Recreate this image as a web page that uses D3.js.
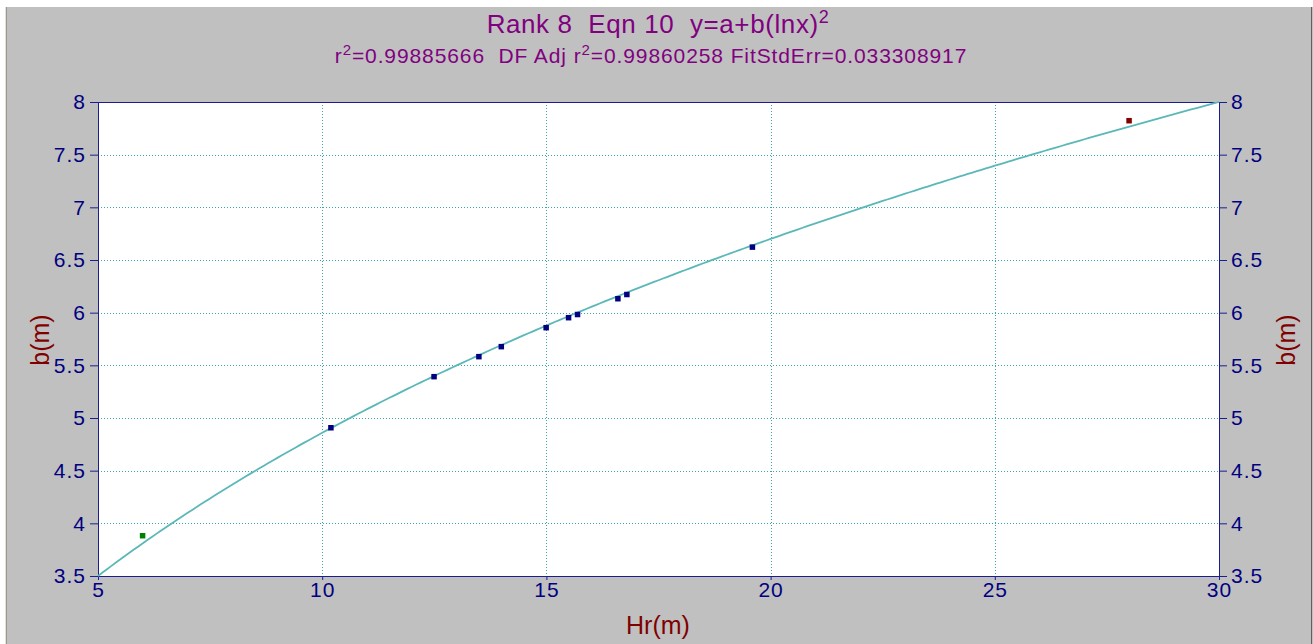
<!DOCTYPE html>
<html>
<head>
<meta charset="utf-8">
<script src="https://cdn.jsdelivr.net/npm/d3@7"></script>
<style>
body { margin: 0; background: #fff; }
svg { display: block; font-family: "Liberation Sans", Arial, sans-serif; }
text { white-space: pre; }
</style>
</head>
<body>
<svg width="1313" height="644"></svg>
<script>
var svg = d3.select('svg');
var width = +svg.attr('width');
var height = +svg.attr('height');

// measured points: Hr(m) vs b(m)
var hr = [6.0, 10.2, 12.5, 13.5, 14.0, 15.0, 15.5, 15.7, 16.6, 16.8, 19.6, 28.0];
var bm = [3.88, 4.905, 5.39, 5.58, 5.675, 5.855, 5.95, 5.98, 6.13, 6.17, 6.62, 7.82];
var pointColors = ['#008000', '#000080', '#000080', '#000080', '#000080', '#000080',
	'#000080', '#000080', '#000080', '#000080', '#000080', '#800000'];

// fit y = a + b(ln x)^2
var fitA = 2.202;
var fitB = 0.5012;

var xTicks = [5, 10, 15, 20, 25, 30];
var yTicks = [3.5, 4, 4.5, 5, 5.5, 6, 6.5, 7, 7.5, 8];

var plot = { left: 98, right: 1219, top: 102, bottom: 576 };

var x = d3.scaleLinear().domain([5, 30]).range([plot.left, plot.right]);
var y = d3.scaleLinear().domain([3.5, 8]).range([plot.bottom, plot.top]);

// window frame
svg.append('rect').attr('x', 5).attr('y', 7).attr('width', width - 5).attr('height', height - 7)
	.attr('fill', '#c0c0c0');
svg.append('line').attr('x1', 6.5).attr('x2', 6.5).attr('y1', 7).attr('y2', height)
	.attr('stroke', '#9c9890').attr('stroke-width', 1);
svg.append('line').attr('x1', 5.5).attr('x2', 5.5).attr('y1', 7).attr('y2', height)
	.attr('stroke', '#e6e2da').attr('stroke-width', 1);
svg.append('line').attr('x1', width - 1.5).attr('x2', width - 1.5).attr('y1', 7).attr('y2', height)
	.attr('stroke', '#606060').attr('stroke-width', 1);

svg.append('rect')
	.attr('x', plot.left).attr('y', plot.top)
	.attr('width', plot.right - plot.left).attr('height', plot.bottom - plot.top)
	.attr('fill', '#ffffff');

// grid
var grid = svg.append('g').attr('stroke', '#3aa6a6').attr('stroke-width', 1).attr('stroke-dasharray', '1,2');
grid.selectAll('.gx').data(xTicks.slice(1, -1)).enter().append('line')
	.attr('x1', d => Math.round(x(d)) + 0.5).attr('x2', d => Math.round(x(d)) + 0.5)
	.attr('y1', plot.top).attr('y2', plot.bottom);
grid.selectAll('.gy').data(yTicks.slice(1, -1)).enter().append('line')
	.attr('y1', d => Math.round(y(d)) + 0.5).attr('y2', d => Math.round(y(d)) + 0.5)
	.attr('x1', plot.left).attr('x2', plot.right);

// axes
var axisColor = '#1c1c94';
function styleAxis(g) {
	g.select('.domain').attr('stroke', axisColor);
	g.selectAll('.tick line').attr('stroke', axisColor);
	g.selectAll('.tick text').attr('fill', '#000080').attr('font-size', 21)
		.attr('letter-spacing', 1)
		.attr('font-family', '"Liberation Sans", Arial, sans-serif');
}
svg.append('g').attr('transform', 'translate(' + plot.left + ',0)')
	.call(d3.axisLeft(y).tickValues(yTicks).tickSize(8).tickSizeOuter(0).tickPadding(4).tickFormat(d3.format('')))
	.call(styleAxis);
svg.append('g').attr('transform', 'translate(' + plot.right + ',0)')
	.call(d3.axisRight(y).tickValues(yTicks).tickSize(8).tickSizeOuter(0).tickPadding(4).tickFormat(d3.format('')))
	.call(styleAxis);
svg.append('g').attr('transform', 'translate(0,' + plot.bottom + ')')
	.call(d3.axisBottom(x).tickValues(xTicks).tickSize(4).tickSizeOuter(0).tickPadding(2).tickFormat(d3.format('')))
	.call(styleAxis);
svg.append('line').attr('x1', plot.left).attr('x2', plot.right)
	.attr('y1', plot.top + 0.5).attr('y2', plot.top + 0.5).attr('stroke', axisColor);

// fitted curve
var curveX = d3.range(5, 30.001, 0.1);
var line = d3.line().x(d => x(d)).y(d => y(fitA + fitB * Math.pow(Math.log(d), 2)));
svg.append('path').datum(curveX).attr('d', line)
	.attr('fill', 'none').attr('stroke', '#5cb8b8').attr('stroke-width', 1.8);

// points
svg.selectAll('.pt').data(hr).enter().append('rect')
	.attr('x', d => x(d) - 3).attr('y', (d, i) => y(bm[i]) - 3)
	.attr('width', 5.5).attr('height', 5.5)
	.attr('fill', (d, i) => pointColors[i]);

// titles
var title = svg.append('text').attr('x', 658).attr('y', 33).attr('text-anchor', 'middle')
	.attr('fill', '#800080').attr('font-size', 26).attr('letter-spacing', 0.6);
title.append('tspan').text('Rank 8  Eqn 10  y=a+b(lnx)');
title.append('tspan').attr('font-size', 18).attr('dy', -10).text('2');

var sub = svg.append('text').attr('x', 651).attr('y', 63).attr('text-anchor', 'middle')
	.attr('fill', '#800080').attr('font-size', 21).attr('letter-spacing', 0.9);
sub.append('tspan').text('r');
sub.append('tspan').attr('font-size', 15).attr('dy', -8).text('2');
sub.append('tspan').attr('dy', 8).text('=0.99885666  DF Adj r');
sub.append('tspan').attr('font-size', 15).attr('dy', -8).text('2');
sub.append('tspan').attr('dy', 8).text('=0.99860258 FitStdErr=0.033308917');

// axis labels
svg.append('text').attr('x', 658).attr('y', 634).attr('text-anchor', 'middle')
	.attr('fill', '#800000').attr('font-size', 25).text('Hr(m)');
svg.append('text').attr('transform', 'translate(49,' + 340 + ') rotate(-90)').attr('text-anchor', 'middle')
	.attr('fill', '#800000').attr('font-size', 25).text('b(m)');
svg.append('text').attr('transform', 'translate(1295,' + 340 + ') rotate(-90)').attr('text-anchor', 'middle')
	.attr('fill', '#800000').attr('font-size', 25).text('b(m)');
</script>
</body>
</html>
